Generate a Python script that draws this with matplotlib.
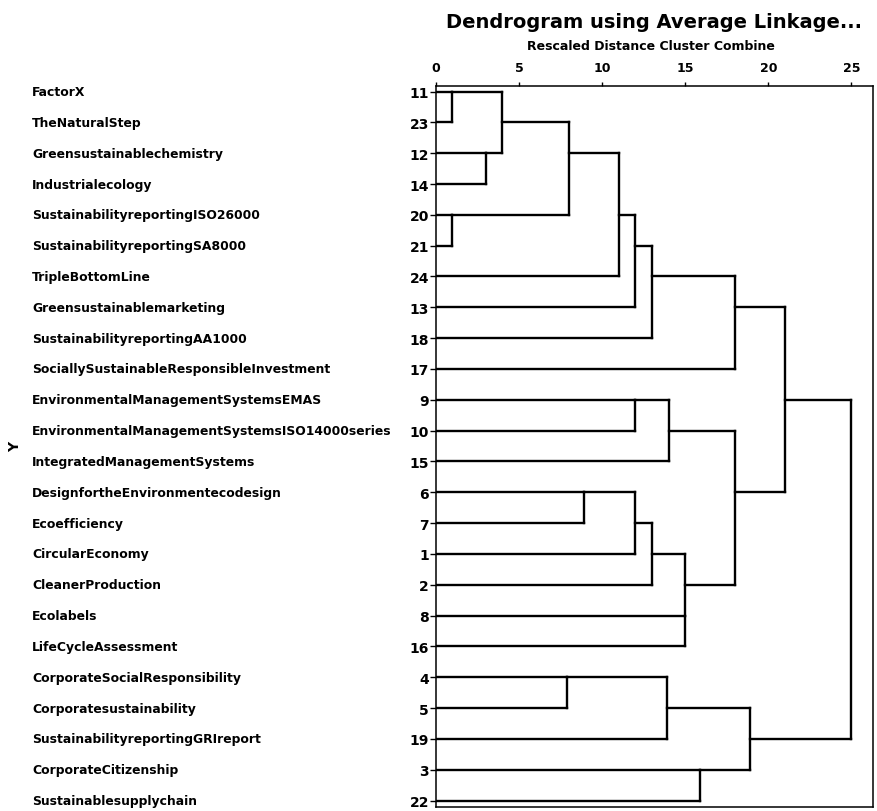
import matplotlib
matplotlib.use("Agg")
import matplotlib.pyplot as plt
from matplotlib.transforms import blended_transform_factory

# cases in dendrogram order, top to bottom
case_ids = [11, 23, 12, 14, 20, 21, 24, 13, 18, 17, 9, 10, 15, 6, 7, 1, 2, 8, 16, 4, 5, 19, 3, 22]
case_names = ["FactorX", "TheNaturalStep", "Greensustainablechemistry", "Industrialecology",
              "SustainabilityreportingISO26000", "SustainabilityreportingSA8000", "TripleBottomLine",
              "Greensustainablemarketing", "SustainabilityreportingAA1000",
              "SociallySustainableResponsibleInvestment", "EnvironmentalManagementSystemsEMAS",
              "EnvironmentalManagementSystemsISO14000series", "IntegratedManagementSystems",
              "DesignfortheEnvironmentecodesign", "Ecoefficiency", "CircularEconomy", "CleanerProduction",
              "Ecolabels", "LifeCycleAssessment", "CorporateSocialResponsibility", "Corporatesustainability",
              "SustainabilityreportingGRIreport", "CorporateCitizenship", "Sustainablesupplychain"]

# agglomeration steps: first case of each joined cluster and rescaled distance
merge_a = [11, 20, 12, 11, 4, 11, 6, 11, 9, 11, 6, 11, 6, 9, 4, 8, 6, 3, 11, 9, 4, 11, 11]
merge_b = [23, 21, 14, 12, 5, 20, 7, 24, 10, 13, 1, 18, 2, 15, 19, 16, 8, 22, 17, 6, 3, 9, 4]
merge_dist = [0.95, 0.95, 3.0, 4.0, 7.9, 8.0, 8.9, 11.0, 12.0, 12.0, 12.0, 13.0, 13.0, 14.0,
              13.9, 15.0, 15.0, 15.9, 18.0, 18.0, 18.9, 21.0, 25.0]
dist_ticks = [0, 5, 10, 15, 20, 25]

fig = plt.figure(figsize=(8.78, 8.12), dpi=100)
ax = fig.add_axes([436 / 878, 1 - 808 / 812, (873 - 436) / 878, (808 - 87) / 812])

pos = {c: i for i, c in enumerate(case_ids)}
height = {c: 0.0 for c in case_ids}
lkw = dict(color="black", lw=1.7, solid_capstyle="projecting")
for a, b, d in zip(merge_a, merge_b, merge_dist):
    ya, yb = pos[a], pos[b]
    ax.plot([height[a], d], [ya, ya], **lkw)
    ax.plot([height[b], d], [yb, yb], **lkw)
    ax.plot([d, d], [ya, yb], **lkw)
    pos[a] = (ya + yb) // 2
    height[a] = d

ax.set_xlim(0, 26.3)
ax.set_ylim(23.21, -0.18)
ax.xaxis.tick_top()
ax.set_xticks(dist_ticks)
ax.set_xticklabels([str(t) for t in dist_ticks], fontsize=9, fontweight="bold")
ax.set_yticks(range(len(case_ids)))
ax.set_yticklabels([str(c) for c in case_ids], fontsize=10, fontweight="bold")
ax.tick_params(axis="x", length=3, width=1, pad=6)
ax.tick_params(axis="y", length=4, width=1, pad=1)
for s in ax.spines.values():
    s.set_linewidth(1.1)

trans = blended_transform_factory(fig.transFigure, ax.transData)
for i, name in enumerate(case_names):
    ax.text(32 / 878, i, name, transform=trans, ha="left", va="center",
            fontsize=8.9, fontweight="bold", clip_on=False)

fig.text(654 / 878, 1 - 23 / 812, "Dendrogram using Average Linkage...", ha="center", va="center",
         fontsize=14, fontweight="bold")
fig.text(651 / 878, 1 - 47 / 812, "Rescaled Distance Cluster Combine", ha="center", va="center",
         fontsize=9, fontweight="bold")
fig.text(15 / 878, 1 - 447 / 812, "Y", rotation=90, ha="center", va="center",
         fontsize=10, fontweight="bold")

fig.savefig("out.png", dpi=100)
